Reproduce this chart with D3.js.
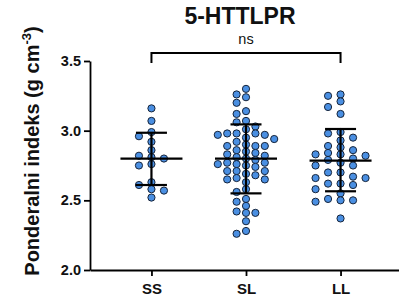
<!DOCTYPE html>
<html>
<head>
<meta charset="utf-8">
<script src="https://cdn.jsdelivr.net/npm/d3@7"></script>
<style>
  body { margin: 0; background: #fff; }
  text { font-family: "Liberation Sans", Arial, sans-serif; }
</style>
</head>
<body>
<svg id="drawing_region"></svg>
<script>
// genotype groups
const groups = ['SS', 'SL', 'LL'];

// individual ponderal index values (g cm-3)
const ssValues = [3.16, 3.07, 2.99, 2.96, 2.92, 2.86, 2.82, 2.81, 2.80, 2.76, 2.75,
    2.63, 2.61, 2.58, 2.57, 2.52];
const slValues = [3.30, 3.26, 3.24, 3.20, 3.14, 3.12, 3.07, 3.06, 3.03, 3.01, 2.98,
    2.98, 2.98, 2.97, 2.97, 2.95, 2.94, 2.92, 2.90, 2.89, 2.89, 2.89, 2.86, 2.85,
    2.84, 2.83, 2.82, 2.81, 2.80, 2.79, 2.77, 2.77, 2.76, 2.76, 2.75, 2.74, 2.71,
    2.71, 2.71, 2.69, 2.68, 2.66, 2.65, 2.65, 2.63, 2.58, 2.56, 2.51, 2.49, 2.46,
    2.42, 2.41, 2.41, 2.35, 2.28, 2.26];
const llValues = [3.26, 3.25, 3.21, 3.17, 3.12, 2.99, 2.98, 2.95, 2.93, 2.89, 2.88,
    2.86, 2.84, 2.83, 2.83, 2.82, 2.80, 2.79, 2.77, 2.75, 2.75, 2.70, 2.70, 2.67,
    2.66, 2.66, 2.62, 2.62, 2.61, 2.58, 2.55, 2.51, 2.50, 2.50, 2.49, 2.37];

// summary lines: mean and mean +/- SD
const means = [2.80, 2.80, 2.785];
const sdLow = [2.61, 2.55, 2.565];
const sdHigh = [2.985, 3.045, 3.012];

const yTicks = [2.0, 2.5, 3.0, 3.5];
const title = '5-HTTLPR';
const sigLabel = 'ns';

const width = 399, height = 306;
const svg = d3.select('#drawing_region')
    .attr('width', width)
    .attr('height', height);

const xscale = d3.scalePoint()
    .domain(groups)
    .range([90, 402])
    .padding(0.65);
const yscale = d3.scaleLinear()
    .domain([2.0, 3.5])
    .range([270, 61]);

// y axis
const yaxis = d3.axisLeft(yscale)
    .tickValues(yTicks)
    .tickFormat(d3.format('.1f'))
    .tickSize(6)
    .tickSizeOuter(0);
const yaxis_group = svg.append('g')
    .attr('transform', 'translate(90,0)')
    .call(yaxis);
yaxis_group.select('.domain').attr('stroke', '#000').attr('stroke-width', 1.8);
yaxis_group.selectAll('.tick line').attr('stroke-width', 1.8);
yaxis_group.selectAll('.tick text')
    .attr('x', -9)
    .attr('font-size', 14.5)
    .attr('font-weight', 'bold')
    .attr('font-family', '"Liberation Sans", Arial, sans-serif')
    .attr('fill', '#111');

// x axis
const xaxis = d3.axisBottom(xscale)
    .tickSize(6)
    .tickSizeOuter(0);
const xaxis_group = svg.append('g')
    .attr('transform', 'translate(0,270)')
    .call(xaxis);
xaxis_group.select('.domain').attr('stroke', '#000').attr('stroke-width', 1.8);
xaxis_group.selectAll('.tick line').attr('stroke-width', 1.8);
xaxis_group.selectAll('.tick text')
    .attr('y', 13)
    .attr('font-size', 15)
    .attr('font-weight', 'bold')
    .attr('font-family', '"Liberation Sans", Arial, sans-serif')
    .attr('fill', '#111');

// simple swarm: place each point in the nearest free column
function swarm(values, step, diam) {
    const placed = [];
    const sorted = values.slice().sort((a, b) => b - a);
    sorted.forEach(v => {
        const py = yscale(v);
        for (let k = 0; k < 20; k++) {
            const slot = k === 0 ? 0 : (k % 2 ? -(k + 1) / 2 : k / 2);
            const clash = placed.some(p => p.slot === slot && Math.abs(p.py - py) < diam);
            if (!clash) { placed.push({ v: v, py: py, slot: slot, dx: slot * step }); break; }
        }
    });
    return placed;
}

const allValues = [ssValues, slValues, llValues];
const steps = [12.5, 9.4, 12.5];
const dots = [];
allValues.forEach((vals, i) => {
    swarm(vals, steps[i], 6.6).forEach(p => dots.push({ group: groups[i], v: p.v, dx: p.dx }));
});

svg.append('g').selectAll('circle').data(dots)
    .join('circle')
    .attr('cx', d => xscale(d.group) + d.dx)
    .attr('cy', d => yscale(d.v))
    .attr('r', 3.6)
    .attr('fill', '#4a8fe2')
    .attr('stroke', '#16243a')
    .attr('stroke-width', 1);

// mean and SD bars
const summary = groups.map((g, i) => ({ group: g, mean: means[i], lo: sdLow[i], hi: sdHigh[i] }));
const bars = svg.append('g').attr('stroke', '#000').attr('stroke-width', 2.2);
bars.selectAll('.vert').data(summary).join('line').attr('class', 'vert')
    .attr('x1', d => xscale(d.group)).attr('x2', d => xscale(d.group))
    .attr('y1', d => yscale(d.lo)).attr('y2', d => yscale(d.hi));
bars.selectAll('.meanline').data(summary).join('line').attr('class', 'meanline')
    .attr('x1', d => xscale(d.group) - 31).attr('x2', d => xscale(d.group) + 31)
    .attr('y1', d => yscale(d.mean)).attr('y2', d => yscale(d.mean));
bars.selectAll('.caphi').data(summary).join('line').attr('class', 'caphi')
    .attr('x1', d => xscale(d.group) - 15.5).attr('x2', d => xscale(d.group) + 15.5)
    .attr('y1', d => yscale(d.hi)).attr('y2', d => yscale(d.hi));
bars.selectAll('.caplo').data(summary).join('line').attr('class', 'caplo')
    .attr('x1', d => xscale(d.group) - 15.5).attr('x2', d => xscale(d.group) + 15.5)
    .attr('y1', d => yscale(d.lo)).attr('y2', d => yscale(d.lo));

// significance bracket SS vs LL
const bx1 = xscale(groups[0]), bx2 = xscale(groups[2]);
svg.append('path')
    .attr('d', `M${bx1},63V53H${bx2}V63`)
    .attr('fill', 'none')
    .attr('stroke', '#000')
    .attr('stroke-width', 2);
svg.append('text')
    .attr('x', (bx1 + bx2) / 2)
    .attr('y', 44)
    .attr('text-anchor', 'middle')
    .attr('font-size', 14.5)
    .attr('fill', '#111')
    .text(sigLabel);

// title
svg.append('text')
    .attr('x', 240)
    .attr('y', 24)
    .attr('text-anchor', 'middle')
    .attr('font-size', 23)
    .attr('font-weight', 'bold')
    .attr('fill', '#111')
    .text(title);

// y axis label
const ylab = svg.append('text')
    .attr('transform', 'translate(39,151) rotate(-90)')
    .attr('text-anchor', 'middle')
    .attr('font-size', 20)
    .attr('font-weight', 'bold')
    .attr('fill', '#111');
ylab.append('tspan').text('Ponderalni indeks (g cm');
ylab.append('tspan').attr('dy', -8).attr('font-size', 13).text('-3');
ylab.append('tspan').attr('dy', 8).text(')');
</script>
</body>
</html>
